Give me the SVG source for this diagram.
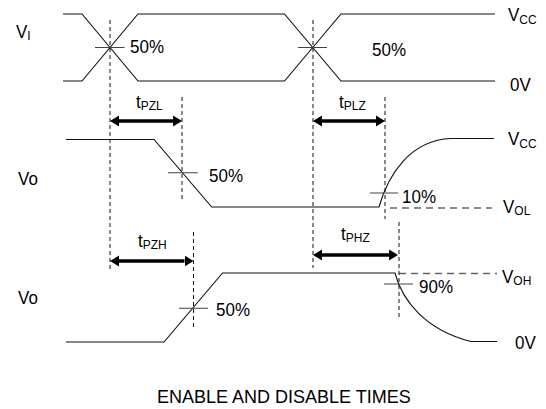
<svg xmlns="http://www.w3.org/2000/svg" width="546" height="409" viewBox="0 0 546 409">
  <style>
    .lbl { font-family: "Liberation Sans", Arial, sans-serif; font-size: 17px; fill: #000; }
    .sub { font-size: 12px; }
    .title { font-family: "Liberation Sans", Arial, sans-serif; font-size: 18px; fill: #000; }
    .wave { fill: none; stroke: #111; stroke-width: 1.1; }
    .tick { fill: none; stroke: #444; stroke-width: 1.1; }
    .guide { fill: none; stroke: #111; stroke-width: 1; stroke-dasharray: 4 3; }
    .level { fill: none; stroke: #666; stroke-width: 1.6; stroke-dasharray: 7 5; }
    .dim { fill: none; stroke: #000; stroke-width: 3.5; marker-start: url(#head); marker-end: url(#head); }
  </style>
  <defs>
    <marker id="head" markerUnits="userSpaceOnUse" markerWidth="12" markerHeight="12" refX="0" refY="0" viewBox="0 -6 12 12" orient="auto-start-reverse">
      <path d="M0,-5.5 L9,0 L0,5.5 z" fill="#000"/>
    </marker>
  </defs>

  <rect width="546" height="409" fill="#fff"/>

  <!-- input waveform V_I -->
  <g id="vi">
    <path class="wave" d="M63,14 H82 L138,81 H284.5 L341,14 H495"/>
    <path class="wave" d="M63,81 H82 L138,14 H284.5 L341,81 H495"/>
    <path class="tick" d="M95,47.5 H124.5 M298,47.5 H327"/>
    <text class="lbl" transform="translate(16,38) scale(1,1.12)">V<tspan class="sub" dy="1.5">I</tspan></text>
    <text class="lbl" transform="translate(130,53.3) scale(1,1.12)">50%</text>
    <text class="lbl" transform="translate(372,55.5) scale(1,1.12)">50%</text>
    <text class="lbl" transform="translate(508,21) scale(1,1.12)">V<tspan class="sub" dy="3">CC</tspan></text>
    <text class="lbl" transform="translate(510,91) scale(1,1.12)">0V</text>
  </g>

  <!-- output Vo, low-going enable / disable -->
  <g id="vo-low">
    <path class="wave" d="M66,139.5 H154 L211.7,207 H379 C388,175 410,140 451,138.5 H494"/>
    <path class="tick" d="M168,172.7 H197.7 M370,193 H398"/>
    <path class="level" d="M390,208 H492"/>
    <text class="lbl" transform="translate(18,185) scale(1,1.12)">Vo</text>
    <text class="lbl" transform="translate(209,182) scale(1,1.12)">50%</text>
    <text class="lbl" transform="translate(402,203) scale(1,1.12)">10%</text>
    <text class="lbl" transform="translate(508,145) scale(1,1.12)">V<tspan class="sub" dy="2.5">CC</tspan></text>
    <text class="lbl" transform="translate(503,213) scale(1,1.12)">V<tspan class="sub" dy="2">OL</tspan></text>
  </g>

  <!-- output Vo, high-going enable / disable -->
  <g id="vo-high">
    <path class="wave" d="M66,342 H164 L222.5,273 H395 C402,300 425,330 471,341.5 H497"/>
    <path class="tick" d="M179,308.3 H208 M384,284 H413"/>
    <path class="level" d="M399,273.5 H497"/>
    <text class="lbl" transform="translate(18,304) scale(1,1.12)">Vo</text>
    <text class="lbl" transform="translate(216,316) scale(1,1.12)">50%</text>
    <text class="lbl" transform="translate(419,293) scale(1,1.12)">90%</text>
    <text class="lbl" transform="translate(502,283) scale(1,1.12)">V<tspan class="sub" dy="1.5">OH</tspan></text>
    <text class="lbl" transform="translate(515,349) scale(1,1.12)">0V</text>
  </g>

  <!-- timing labels -->
  <g id="t-pzl">
    <text class="lbl" transform="translate(136,108) scale(1,1.12)">t<tspan class="sub" dy="2">PZL</tspan></text>
  </g>
  <g id="t-plz">
    <text class="lbl" transform="translate(339,108) scale(1,1.12)">t<tspan class="sub" dy="2">PLZ</tspan></text>
  </g>
  <g id="t-pzh">
    <text class="lbl" transform="translate(138,247) scale(1,1.12)">t<tspan class="sub" dy="2">PZH</tspan></text>
  </g>
  <g id="t-phz">
    <text class="lbl" transform="translate(341,240) scale(1,1.12)">t<tspan class="sub" dy="2">PHZ</tspan></text>
  </g>

  <!-- reference lines and time intervals -->
  <g id="connectors">
    <path class="guide" d="M110,20 V270 M313,20 V268 M182,97 V200 M385,97 V219 M193.5,232 V328 M399,222 V317"/>
    <line class="dim" x1="119" y1="121" x2="173" y2="121"/>
    <line class="dim" x1="322" y1="121" x2="376" y2="121"/>
    <line class="dim" x1="119" y1="261" x2="184.5" y2="261"/>
    <line class="dim" x1="322" y1="255" x2="389" y2="255"/>
  </g>

  <text class="title" x="157" y="403">ENABLE AND DISABLE TIMES</text>
</svg>
